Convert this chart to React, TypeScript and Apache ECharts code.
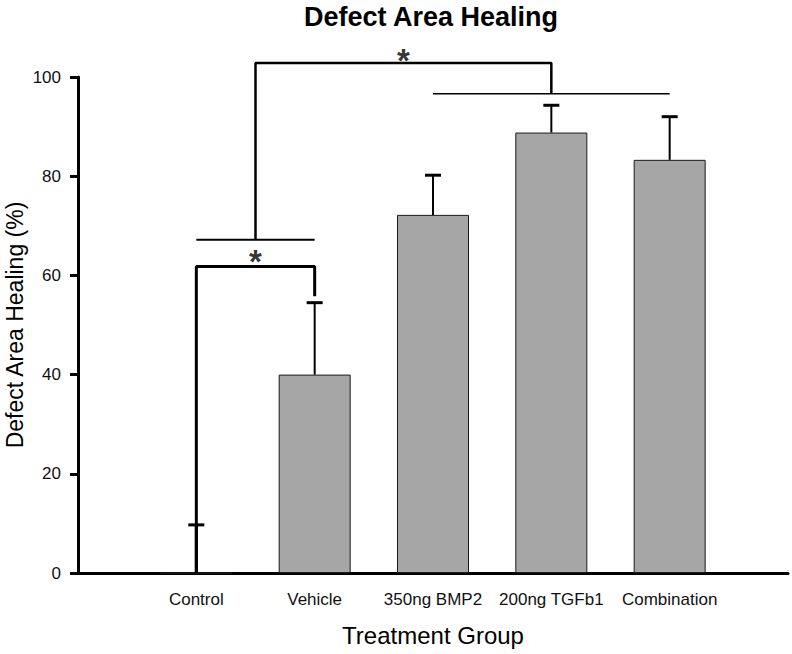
import React, { useEffect, useRef } from "react";
import * as echarts from "echarts";

const categories = ["Control", "Vehicle", "350ng BMP2", "200ng TGFb1", "Combination"];
const means = [0, 40, 72.2, 88.8, 83.3];
const errors = [9.7, 14.5, 8, 5.5, 8.7];
const yTicks = [0, 20, 40, 60, 80, 100];

// significance brackets in data units: [x, y] points
const bracketLow = [[1, 0], [1, 61.8], [2, 61.8], [2, 55.8]];
const bracketLowTop = [[1, 67.2], [2, 67.2]];
const bracketHighStem = [[1.5, 67.2], [1.5, 102.8], [4, 102.8], [4, 96.6]];
const bracketHighTop = [[3, 96.6], [5, 96.6]];
const stars = [[1.5, 62.8], [2.75, 103.4]];

export default function App() {
  const ref = useRef<HTMLDivElement>(null);
  useEffect(() => {
    const chart = echarts.init(ref.current!, null, { renderer: "svg" });
    const font = "Liberation Sans, Arial, sans-serif";
    const lineSeries = (data: number[][], w: number) => ({
      type: "line",
      data,
      symbol: "none",
      clip: false,
      silent: true,
      lineStyle: { color: "#000", width: w },
      z: 5,
    });
    chart.setOption({
      animation: false,
      title: {
        text: "Defect Area Healing",
        left: 426,
        top: -2,
        textAlign: "center",
        textStyle: { fontFamily: font, fontSize: 27, fontWeight: "bold", color: "#000" },
      },
      grid: { left: 78, right: 4, top: 77, bottom: 81, containLabel: false, outerBoundsMode: "none" },
      xAxis: {
        type: "value",
        min: 0,
        max: 6,
        interval: 1,
        name: "Treatment Group",
        nameLocation: "middle",
        nameGap: 50,
        nameMoveOverlap: false,
        nameTextStyle: { fontFamily: font, fontSize: 24, color: "#000" },
        axisLine: { lineStyle: { color: "#000", width: 3 } },
        axisTick: { show: false },
        splitLine: { show: false },
        axisLabel: {
          fontFamily: font,
          fontSize: 17,
          color: "#111",
          margin: 18,
          formatter: (v: number) => (v >= 1 && v <= 5 ? categories[v - 1] : ""),
        },
      },
      yAxis: {
        type: "value",
        min: 0,
        max: 100,
        interval: 20,
        name: "Defect Area Healing (%)",
        nameLocation: "middle",
        nameGap: 52,
        nameMoveOverlap: false,
        nameTextStyle: { fontFamily: font, fontSize: 23, color: "#000" },
        axisLine: { show: true, lineStyle: { color: "#000", width: 3 } },
        axisTick: { show: true, length: 8, lineStyle: { color: "#000", width: 3 } },
        splitLine: { show: false },
        axisLabel: {
          fontFamily: font,
          fontSize: 17,
          color: "#111",
          margin: 17,
          formatter: (v: number) => (yTicks.includes(v) ? String(v) : ""),
        },
      },
      series: [
        {
          type: "bar",
          data: means.map((m, i) => [i + 1, m]),
          barWidth: 72,
          itemStyle: { color: "#a6a6a6", borderColor: "#1a1a1a", borderWidth: 1 },
          z: 2,
        },
        {
          type: "custom",
          clip: false,
          z: 4,
          data: means.map((m, i) => [i + 1, m, m + errors[i]]),
          renderItem: (params: any, api: any) => {
            const x = api.value(0);
            const lo = api.coord([x, api.value(1)]);
            const hi = api.coord([x, api.value(2)]);
            const cap = 8;
            const w = params.dataIndex === 0 ? 3 : 2;
            return {
              type: "group",
              children: [
                { type: "line", shape: { x1: lo[0], y1: lo[1], x2: hi[0], y2: hi[1] }, style: { stroke: "#000", lineWidth: w } },
                { type: "line", shape: { x1: hi[0] - cap, y1: hi[1], x2: hi[0] + cap, y2: hi[1] }, style: { stroke: "#000", lineWidth: 3 } },
              ],
            };
          },
        },
        lineSeries(bracketLow, 3),
        lineSeries(bracketLowTop, 2),
        lineSeries(bracketHighStem, 2.5),
        lineSeries(bracketHighTop, 1.5),
        {
          type: "scatter",
          data: stars,
          symbolSize: 0,
          clip: false,
          silent: true,
          z: 6,
          itemStyle: { color: "#000" },
          label: {
            show: true,
            position: "inside",
            formatter: "*",
            fontFamily: font,
            fontSize: 33,
            fontWeight: "bold",
            color: "#000",
            textBorderWidth: 0,
          },
        },
      ],
    });
    return () => chart.dispose();
  }, []);
  return <div ref={ref} style={{ width: 792, height: 654, position: "absolute", left: 0, top: 0 }} />;
}
